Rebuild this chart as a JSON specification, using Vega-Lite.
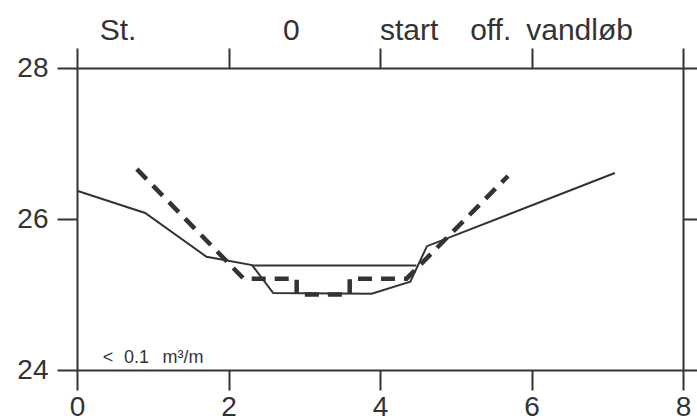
{
  "$schema": "https://vega.github.io/schema/vega-lite/v6.json",
  "width": 606,
  "height": 302,
  "autosize": {"type": "none"},
  "padding": {"left": 77, "top": 68, "right": 14, "bottom": 50},
  "background": "white",
  "config": {
    "view": {"stroke": null},
    "axis": {
      "domainColor": "#333333", "domainWidth": 2,
      "tickColor": "#333333", "tickWidth": 2, "tickSize": 20,
      "grid": false, "labelColor": "#333333", "labelFont": "Liberation Sans",
      "labelFontSize": 28, "title": null
    }
  },
  "datasets": {
    "profil": [
      {"serie": "terræn", "i": 1, "x": 0.0, "y": 26.375},
      {"serie": "terræn", "i": 2, "x": 0.90, "y": 26.08},
      {"serie": "terræn", "i": 3, "x": 1.71, "y": 25.50},
      {"serie": "terræn", "i": 4, "x": 2.31, "y": 25.39},
      {"serie": "terræn", "i": 5, "x": 2.59, "y": 25.02},
      {"serie": "terræn", "i": 6, "x": 3.89, "y": 25.01},
      {"serie": "terræn", "i": 7, "x": 4.40, "y": 25.17},
      {"serie": "terræn", "i": 8, "x": 4.62, "y": 25.64},
      {"serie": "terræn", "i": 9, "x": 7.10, "y": 26.61},
      {"serie": "vandspejl", "i": 1, "x": 2.31, "y": 25.385},
      {"serie": "vandspejl", "i": 2, "x": 4.48, "y": 25.385}
    ],
    "projekt": [
      {"i": 1, "x": 0.79, "y": 26.66},
      {"i": 2, "x": 2.20, "y": 25.21},
      {"i": 3, "x": 2.90, "y": 25.21},
      {"i": 4, "x": 2.90, "y": 25.0},
      {"i": 5, "x": 3.60, "y": 25.0},
      {"i": 6, "x": 3.60, "y": 25.21},
      {"i": 7, "x": 4.35, "y": 25.21},
      {"i": 8, "x": 5.69, "y": 26.57}
    ],
    "overskrift": [
      {"x": 0.30, "y": 28.37, "tekst": "St."},
      {"x": 2.72, "y": 28.37, "tekst": "0"},
      {"x": 4.0, "y": 28.37, "tekst": "start"},
      {"x": 5.19, "y": 28.37, "tekst": "off."},
      {"x": 5.93, "y": 28.37, "tekst": "vandløb"}
    ],
    "note": [
      {"x": 0.34, "y": 24.095, "tekst": "<"},
      {"x": 0.62, "y": 24.095, "tekst": "0.1"},
      {"x": 1.13, "y": 24.095, "tekst": "m³/m"}
    ]
  },
  "resolve": {"axis": {"x": "independent", "y": "independent"}},
  "layer": [
    {
      "data": {"name": "profil"},
      "mark": {"type": "line", "color": "#333333", "strokeWidth": 2},
      "encoding": {
        "x": {"field": "x", "type": "quantitative",
              "scale": {"domain": [0, 8], "nice": false, "zero": false},
              "axis": {"orient": "bottom", "values": [0, 2, 4, 6, 8], "labelPadding": 3, "labelFlush": false}},
        "y": {"field": "y", "type": "quantitative",
              "scale": {"domain": [24, 28], "nice": false, "zero": false},
              "axis": {"orient": "left", "values": [24, 26, 28], "labelPadding": 9}},
        "detail": {"field": "serie"},
        "order": {"field": "i"}
      }
    },
    {
      "data": {"name": "projekt"},
      "mark": {"type": "line", "color": "#333333", "strokeWidth": 4.5, "strokeDash": [14, 9]},
      "encoding": {
        "x": {"field": "x", "type": "quantitative",
              "axis": {"orient": "top", "values": [0, 2, 4, 6, 8], "labels": false}},
        "y": {"field": "y", "type": "quantitative",
              "axis": {"orient": "right", "values": [24, 26, 28], "labels": false}},
        "order": {"field": "i"}
      }
    },
    {
      "data": {"name": "overskrift"},
      "mark": {"type": "text", "align": "left", "baseline": "alphabetic", "font": "Liberation Sans", "fontSize": 30, "color": "#333333"},
      "encoding": {
        "x": {"field": "x", "type": "quantitative", "axis": null},
        "y": {"field": "y", "type": "quantitative", "axis": null},
        "text": {"field": "tekst"}
      }
    },
    {
      "data": {"name": "note"},
      "mark": {"type": "text", "align": "left", "baseline": "alphabetic", "font": "Liberation Sans", "fontSize": 18, "color": "#333333"},
      "encoding": {
        "x": {"field": "x", "type": "quantitative", "axis": null},
        "y": {"field": "y", "type": "quantitative", "axis": null},
        "text": {"field": "tekst"}
      }
    }
  ]
}
